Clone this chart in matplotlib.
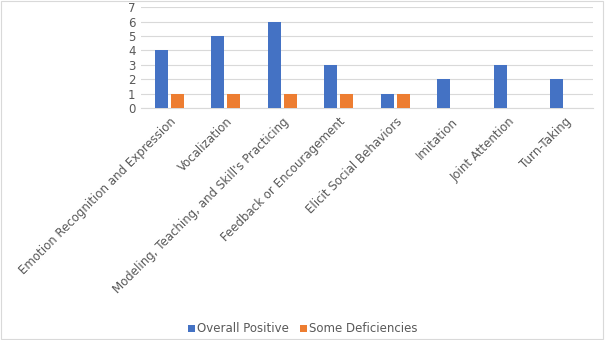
import matplotlib.pyplot as plt
import numpy as np

categories = ['Emotion Recognition and Expression', 'Vocalization',
              "Modeling, Teaching, and Skill's Practicing", 'Feedback or Encouragement',
              'Elicit Social Behaviors', 'Imitation', 'Joint Attention', 'Turn-Taking']
overall_positive = [4, 5, 6, 3, 1, 2, 3, 2]
some_deficiencies = [1, 1, 1, 1, 1, 0, 0, 0]

blue = '#4472C4'
orange = '#ED7D31'
text_color = '#595959'

fig = plt.figure(figsize=(6.05, 3.4), dpi=100)
ax = fig.add_axes([0.233, 0.682, 0.747, 0.297])

x = np.arange(len(categories))
w = 0.23
ax.bar(x - 0.14, overall_positive, w, color=blue, label='Overall Positive', zorder=3)
ax.bar(x + 0.14, some_deficiencies, w, color=orange, label='Some Deficiencies', zorder=3)

ax.set_xlim(-0.5, len(categories) - 0.5)
ax.set_ylim(0, 7)
ax.set_yticks(range(8))
ax.grid(axis='y', color='#D9D9D9', linewidth=0.8, zorder=0)
for s in ['top', 'right', 'left']:
    ax.spines[s].set_visible(False)
ax.spines['bottom'].set_color('#D9D9D9')
ax.tick_params(length=0, colors=text_color, labelsize=8.5)
ax.tick_params(axis='y', pad=4)
ax.tick_params(axis='x', pad=5)
ax.set_xticks(x)
ax.set_xticklabels(categories, rotation=45, ha='right', va='top', rotation_mode='anchor')

fig.legend(loc='lower center', bbox_to_anchor=(0.5, -0.018), ncol=2, frameon=False,
           fontsize=8.5, labelcolor=text_color, handlelength=0.6, handleheight=0.6,
           handletextpad=0.2, columnspacing=0.9)

# outer chart border
fig.patches.append(plt.Rectangle((0.002, 0.003), 0.995, 0.994, transform=fig.transFigure,
                                 fill=False, edgecolor='#D9D9D9', linewidth=0.8))

fig.savefig('out.png', dpi=100)
